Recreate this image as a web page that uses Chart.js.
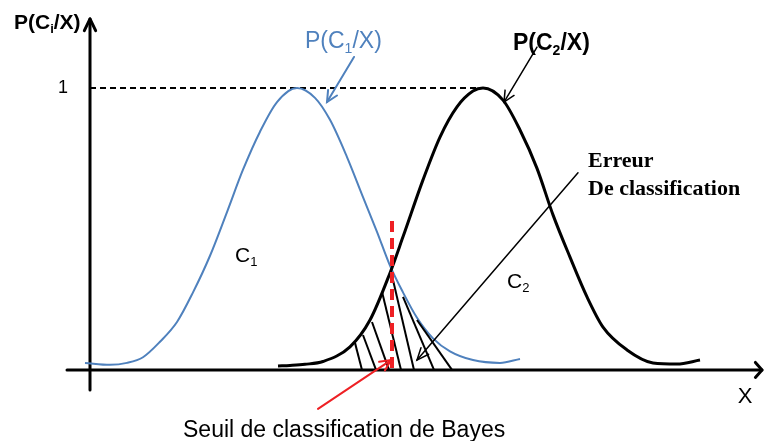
<!DOCTYPE html>
<html>
<head>
<meta charset="utf-8">
<script src="https://cdn.jsdelivr.net/npm/chart.js@4.4.1/dist/chart.umd.min.js"></script>
<style>
  html, body { margin: 0; padding: 0; background: #fff; }
  canvas { display: block; }
</style>
</head>
<body>
<canvas id="graph" width="765" height="441"></canvas>
<script>
// P(C1/X)
const c1X = [-0.1, 0.4, 0.74, 1.06, 1.4, 1.74, 2.06, 2.4, 2.74, 3.06, 3.4, 3.74, 4.14, 4.5, 4.8, 5.14, 5.46, 5.74, 6.0, 6.26, 6.54, 6.86, 7.2, 7.66, 8.2, 8.6];
const c1Y = [0.025, 0.018, 0.025, 0.045, 0.1, 0.17, 0.275, 0.405, 0.56, 0.71, 0.845, 0.95, 1.0, 0.965, 0.887, 0.755, 0.613, 0.49, 0.37, 0.275, 0.185, 0.112, 0.066, 0.035, 0.025, 0.039];
// P(C2/X)
const c2X = [3.76, 4.0, 4.3, 4.66, 5.2, 5.6, 6.0, 6.26, 6.66, 7.0, 7.34, 7.66, 7.86, 8.26, 8.6, 8.94, 9.26, 9.6, 9.94, 10.26, 10.74, 11.26, 11.74, 12.2];
const c2Y = [0.014, 0.016, 0.02, 0.03, 0.082, 0.177, 0.344, 0.472, 0.674, 0.826, 0.933, 0.989, 1.0, 0.957, 0.851, 0.715, 0.55, 0.4, 0.259, 0.152, 0.071, 0.025, 0.021, 0.035];
// seuil de Bayes
const seuilX = 6.04;
const seuilY = [0.007, 0.54];
// hachures de la zone d'erreur
const hachHautX = [5.3, 5.46, 5.64, 5.84, 6.06, 6.26, 6.54];
const hachHautY = [0.096, 0.124, 0.17, 0.277, 0.319, 0.259, 0.177];
const hachBasX = [5.44, 5.72, 5.98, 6.22, 6.48, 6.88, 7.24];
// niveau 1 (pointillés)
const niveauX = [0, 7.86];
const niveauY = 1;

const bleu = '#4f81bd';
const toPoints = (xs, ys) => xs.map((x, i) => ({ x: x, y: ys[i] }));

const hachures = hachHautX.map((x, i) => ({
    label: 'hachure',
    data: [{ x: x, y: hachHautY[i] }, { x: hachBasX[i], y: 0 }],
    borderColor: '#000',
    borderWidth: 2
}));

const datasets = [
    {
        label: 'seuil',
        data: [{ x: seuilX, y: seuilY[0] }, { x: seuilX, y: seuilY[1] }],
        borderColor: '#ee2024',
        borderWidth: 4,
        borderDash: [11, 6]
    },
    {
        label: 'P(C2/X)',
        data: toPoints(c2X, c2Y),
        borderColor: '#000',
        borderWidth: 3,
        cubicInterpolationMode: 'monotone'
    },
    ...hachures,
    {
        label: 'P(C1/X)',
        data: toPoints(c1X, c1Y),
        borderColor: bleu,
        borderWidth: 2,
        cubicInterpolationMode: 'monotone'
    },
    {
        label: 'niveau',
        data: niveauX.map(x => ({ x: x, y: niveauY })),
        borderColor: '#000',
        borderWidth: 2,
        borderDash: [6, 4]
    }
].map(d => Object.assign({ showLine: true, pointRadius: 0, fill: false }, d));

function fleche(ctx, x1, y1, x2, y2, long, angle) {
    ctx.beginPath();
    ctx.moveTo(x1, y1);
    ctx.lineTo(x2, y2);
    ctx.stroke();
    const a = Math.atan2(y2 - y1, x2 - x1);
    ctx.beginPath();
    ctx.moveTo(x2 - long * Math.cos(a - angle), y2 - long * Math.sin(a - angle));
    ctx.lineTo(x2, y2);
    ctx.lineTo(x2 - long * Math.cos(a + angle), y2 - long * Math.sin(a + angle));
    ctx.stroke();
}

// '_' = le caractere suivant est en indice
function ecrire(ctx, txt, x, y, taille, poids, couleur) {
    ctx.fillStyle = couleur;
    ctx.textBaseline = 'middle';
    ctx.textAlign = 'left';
    let cx = x;
    for (let i = 0; i < txt.length; i++) {
        let c = txt[i];
        let sub = false;
        if (c === '_') { sub = true; c = txt[++i]; }
        const t = sub ? Math.round(taille * 0.62) : taille;
        ctx.font = poids + ' ' + t + 'px "Liberation Sans", Arial, sans-serif';
        ctx.fillText(c, cx, sub ? y + taille * 0.3 : y);
        cx += ctx.measureText(c).width;
    }
}

const schema = {
    id: 'schema',
    beforeDatasetsDraw(chart) {
        const ctx = chart.ctx;
        const px = v => chart.scales.x.getPixelForValue(v);
        const py = v => chart.scales.y.getPixelForValue(v);
        ctx.save();
        ctx.strokeStyle = '#000';
        ctx.lineWidth = 3;
        ctx.lineCap = 'round';
        ctx.lineJoin = 'round';
        fleche(ctx, px(0), py(-0.071), px(0), py(1.245), 13, 0.45);
        fleche(ctx, px(-0.46), py(0), px(13.44), py(0), 10, 0.85);
        ctx.restore();
    },
    afterDatasetsDraw(chart) {
        const ctx = chart.ctx;
        const px = v => chart.scales.x.getPixelForValue(v);
        const py = v => chart.scales.y.getPixelForValue(v);
        ctx.save();
        ctx.lineCap = 'round';

        ctx.strokeStyle = bleu;
        ctx.lineWidth = 2;
        fleche(ctx, px(5.28), py(1.11), px(4.74), py(0.95), 12, 0.45);

        ctx.strokeStyle = '#000';
        ctx.lineWidth = 1.5;
        fleche(ctx, px(8.94), py(1.145), px(8.28), py(0.95), 12, 0.45);
        fleche(ctx, px(9.76), py(0.699), px(6.54), py(0.035), 13, 0.4);

        ctx.strokeStyle = '#ee2024';
        ctx.lineWidth = 2;
        fleche(ctx, px(4.56), py(-0.138), px(6.02), py(0.035), 12, 0.45);

        ecrire(ctx, 'P(C_i/X)', px(-1.52), py(1.23), 21, 'bold', '#000');
        ecrire(ctx, 'P(C_1/X)', px(4.3), py(1.163), 23, 'normal', bleu);
        ecrire(ctx, 'P(C_2/X)', px(8.46), py(1.156), 23, 'bold', '#000');
        ecrire(ctx, 'C_1', px(2.9), py(0.404), 21, 'normal', '#000');
        ecrire(ctx, 'C_2', px(8.34), py(0.312), 21, 'normal', '#000');

        ctx.fillStyle = '#000';
        ctx.textBaseline = 'middle';
        ctx.font = '18px "Liberation Sans", Arial, sans-serif';
        ctx.textAlign = 'right';
        ctx.fillText('1', px(-0.44), py(1));
        ctx.textAlign = 'center';
        ctx.font = '22px "Liberation Sans", Arial, sans-serif';
        ctx.fillText('X', px(13.1), py(-0.096));

        ctx.textAlign = 'left';
        ctx.textBaseline = 'alphabetic';
        ctx.font = '23px "Liberation Sans", Arial, sans-serif';
        ctx.fillText('Seuil de classification de Bayes', px(1.86), py(-0.238));

        ctx.font = 'bold 22px "Liberation Serif", "Times New Roman", serif';
        ctx.fillText('Erreur', px(9.96), py(0.72));
        ctx.fillText('De classification', px(9.96), py(0.621));
        ctx.restore();
    }
};

new Chart(document.getElementById('graph'), {
    type: 'scatter',
    data: { datasets: datasets },
    options: {
        responsive: false,
        animation: false,
        events: [],
        layout: { padding: 0 },
        plugins: {
            legend: { display: false },
            tooltip: { enabled: false }
        },
        scales: {
            x: { type: 'linear', min: -1.8, max: 13.5, display: false },
            y: { type: 'linear', min: -0.252, max: 1.312, display: false }
        }
    },
    plugins: [schema]
});
</script>
</body>
</html>
